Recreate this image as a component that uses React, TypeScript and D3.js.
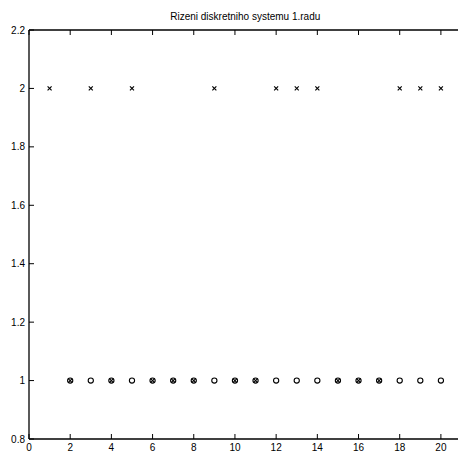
import React, { useRef, useEffect } from 'react';
import * as d3 from 'd3';

// step index k = 1..20, control action (x markers)
const steps = d3.range(1, 21);
const controlValues = [2, 1, 2, 1, 2, 1, 1, 1, 2, 1, 1, 2, 2, 2, 1, 1, 1, 2, 2, 2];
// output (circle markers) from k = 2
const outputSteps = d3.range(2, 21);
const outputValues = [1, 1, 1, 1, 1, 1, 1, 1, 1, 1, 1, 1, 1, 1, 1, 1, 1, 1, 1];
const xTicks = [0, 2, 4, 6, 8, 10, 12, 14, 16, 18, 20];
const yTicks = [0.8, 1, 1.2, 1.4, 1.6, 1.8, 2, 2.2];
const title = 'Rizeni diskretniho systemu 1.radu';

const width = 458;
const height = 452;
const left = 29;
const right = 461.5;
const top = 30;
const bottom = 439;

function App() {
  const svgRef = useRef<SVGSVGElement>(null);

  useEffect(() => {
    const svg = d3.select(svgRef.current);
    svg.selectAll('*').remove();

    const x = d3.scaleLinear().domain([0, 21]).range([left, right]);
    const y = d3.scaleLinear().domain([0.8, 2.2]).range([bottom, top]);
    const font = 'Liberation Sans, Arial, sans-serif';

    // axes frame: right side is cut off by the picture edge
    const frame = svg.append('g').attr('stroke', '#000').attr('stroke-width', 1.3);
    frame.append('line').attr('x1', left).attr('x2', width + 5).attr('y1', top).attr('y2', top);
    frame.append('line').attr('x1', left).attr('x2', width + 5).attr('y1', bottom).attr('y2', bottom);
    frame.append('line').attr('x1', left).attr('x2', left).attr('y1', top).attr('y2', bottom);

    const tl = 5;
    const g = svg.append('g').attr('stroke', '#000').attr('stroke-width', 1);
    xTicks.forEach((t) => {
      g.append('line').attr('x1', x(t)).attr('x2', x(t)).attr('y1', bottom).attr('y2', bottom - tl);
      g.append('line').attr('x1', x(t)).attr('x2', x(t)).attr('y1', top).attr('y2', top + tl);
    });
    yTicks.forEach((t) => {
      g.append('line').attr('x1', left).attr('x2', left + tl).attr('y1', y(t)).attr('y2', y(t));
    });

    svg
      .selectAll('.xl')
      .data(xTicks)
      .enter()
      .append('text')
      .attr('x', (d) => x(d))
      .attr('y', bottom + 12)
      .attr('text-anchor', 'middle')
      .attr('font-family', font)
      .attr('font-size', '10px')
      .text((d) => d);

    svg
      .selectAll('.yl')
      .data(yTicks)
      .enter()
      .append('text')
      .attr('x', left - 4)
      .attr('y', (d) => y(d) + 3.5)
      .attr('text-anchor', 'end')
      .attr('font-family', font)
      .attr('font-size', '10px')
      .text((d) => d3.format('~g')(d));

    svg
      .append('text')
      .attr('x', (left + right) / 2)
      .attr('y', 20)
      .attr('text-anchor', 'middle')
      .attr('font-family', font)
      .attr('font-size', '10px')
      .text(title);

    // output circles
    svg
      .selectAll('.o')
      .data(outputSteps)
      .enter()
      .append('circle')
      .attr('cx', (d) => x(d))
      .attr('cy', (d, i) => y(outputValues[i]))
      .attr('r', 2.6)
      .attr('fill', 'none')
      .attr('stroke', '#000')
      .attr('stroke-width', 1.1);

    // control crosses
    const s = 2;
    const cross = svg
      .selectAll('.x')
      .data(steps)
      .enter()
      .append('g')
      .attr('transform', (d, i) => `translate(${x(d)},${y(controlValues[i])})`)
      .attr('stroke', '#000')
      .attr('stroke-width', 1.1);
    cross.append('line').attr('x1', -s).attr('y1', -s).attr('x2', s).attr('y2', s);
    cross.append('line').attr('x1', -s).attr('y1', s).attr('x2', s).attr('y2', -s);
  }, []);

  return (
    <svg
      ref={svgRef}
      width={width}
      height={height}
      style={{ position: 'absolute', left: 0, top: 0, background: '#fff' }}
    ></svg>
  );
}

export default App;
